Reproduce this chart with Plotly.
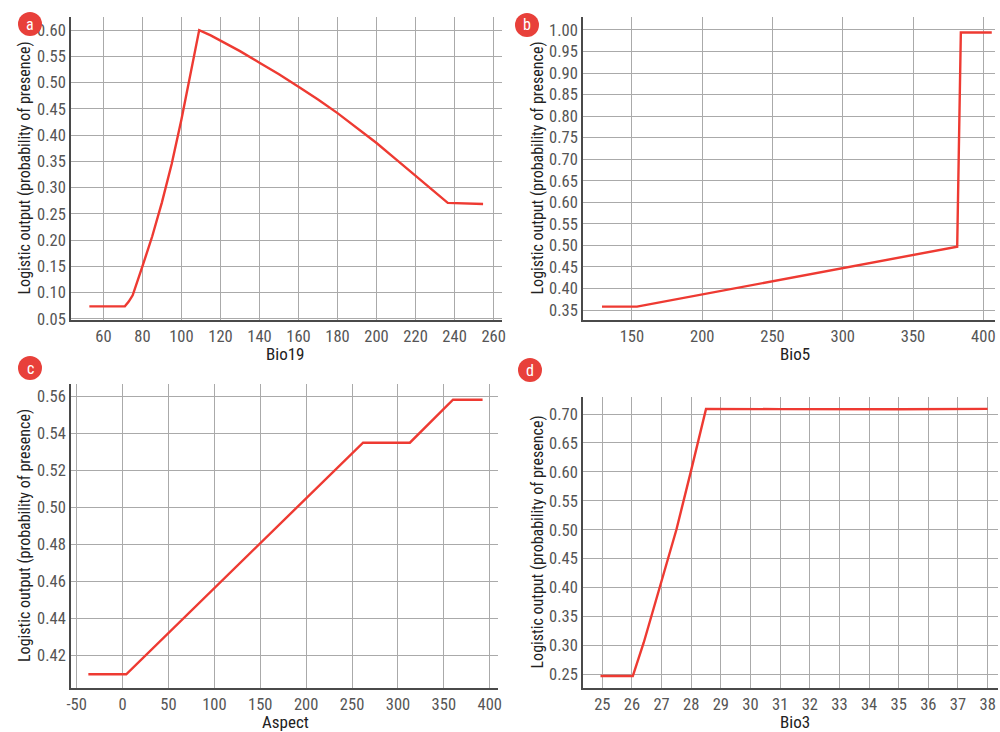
import plotly.graph_objects as go

# ---- data ----
bio19_x = [52.8, 71.0, 73, 75, 80, 85, 90, 95, 100, 105, 109.1, 115, 120, 130, 140, 150, 160, 170, 180, 190, 200, 210, 220, 228, 236.5, 254.6]
bio19_y = [0.074, 0.074, 0.083, 0.095, 0.150, 0.207, 0.272, 0.345, 0.430, 0.520, 0.600, 0.590, 0.580, 0.560, 0.538, 0.516, 0.492, 0.468, 0.442, 0.414, 0.385, 0.354, 0.322, 0.297, 0.271, 0.269]

bio5_x = [128.7, 153.6, 381.4, 384.0, 406.0]
bio5_y = [0.358, 0.358, 0.497, 0.994, 0.994]

aspect_x = [-37.3, 4.0, 262.0, 290.0, 313.0, 360.0, 392.2]
aspect_y = [0.4097, 0.4097, 0.5348, 0.5346, 0.5348, 0.5580, 0.5580]

bio3_x = [24.94, 26.03, 26.4, 27.0, 27.5, 28.0, 28.5, 31.0, 33.0, 35.0, 38.0]
bio3_y = [0.247, 0.247, 0.305, 0.41, 0.50, 0.603, 0.709, 0.7085, 0.708, 0.7083, 0.709]

ticks_a_x = list(range(60, 261, 20))
ticks_a_y = [0.05, 0.10, 0.15, 0.20, 0.25, 0.30, 0.35, 0.40, 0.45, 0.50, 0.55, 0.60]
ticks_b_x = [150, 200, 250, 300, 350, 400]
ticks_b_y = [0.35, 0.40, 0.45, 0.50, 0.55, 0.60, 0.65, 0.70, 0.75, 0.80, 0.85, 0.90, 0.95, 1.00]
ticks_c_x = [-50, 0, 50, 100, 150, 200, 250, 300, 350, 400]
ticks_c_y = [0.42, 0.44, 0.46, 0.48, 0.50, 0.52, 0.54, 0.56]
ticks_d_x = list(range(25, 39))
ticks_d_y = [0.25, 0.30, 0.35, 0.40, 0.45, 0.50, 0.55, 0.60, 0.65, 0.70]

x_titles = ["Bio19", "Bio5", "Aspect", "Bio3"]
panel_letters = ["a", "b", "c", "d"]
y_title = "Logistic output (probability of presence)"

W, H = 1000, 732
FONT = "Liberation Sans Narrow, Roboto Condensed, Arial Narrow, DejaVu Sans Condensed, sans-serif"
RED = "#ee3a32"

fig = go.Figure()

panels = [
    dict(x=bio19_x, y=bio19_y, px=(71, 502), py=(17, 320), xr=[43.4, 264.3], yr=[0.048, 0.625],
         tx=ticks_a_x, ty=ticks_a_y),
    dict(x=bio5_x, y=bio5_y, px=(583, 995), py=(17, 320), xr=[115.2, 408.3], yr=[0.327, 1.030],
         tx=ticks_b_x, ty=ticks_b_y),
    dict(x=aspect_x, y=aspect_y, px=(71, 498), py=(384, 688), xr=[-56.2, 409.0], yr=[0.4023, 0.5665],
         tx=ticks_c_x, ty=ticks_c_y),
    dict(x=bio3_x, y=bio3_y, px=(583, 998), py=(397, 688), xr=[24.35, 38.35], yr=[0.2263, 0.7295],
         tx=ticks_d_x, ty=ticks_d_y),
]

circle_centers = [(30, 24), (527, 25), (30, 368), (530, 370)]
xtitle_pos = [(285, 354), (795, 354), (285, 722), (795, 722)]

annotations = []
shapes = []
for i, p in enumerate(panels):
    n = "" if i == 0 else str(i + 1)
    fig.add_trace(go.Scatter(x=p["x"], y=p["y"], mode="lines",
                             line=dict(color=RED, width=2.4),
                             xaxis="x" + n, yaxis="y" + n, showlegend=False, hoverinfo="skip"))
    xd = [p["px"][0] / W, p["px"][1] / W]
    yd = [1 - p["py"][1] / H, 1 - p["py"][0] / H]
    common = dict(showgrid=True, gridcolor="#aaaaaa", gridwidth=1, zeroline=False,
                  showline=True, linecolor="#4a4a4a", linewidth=1.6, ticks="", automargin=False,
                  tickfont=dict(family=FONT, size=16.5, color="#555555"))
    fig.update_layout(**{
        "xaxis" + n: dict(domain=xd, range=p["xr"], anchor="y" + n, fixedrange=True,
                          tickvals=p["tx"], ticktext=[str(v) for v in p["tx"]], **common),
        "yaxis" + n: dict(domain=yd, range=p["yr"], anchor="x" + n, fixedrange=True,
                          tickvals=p["ty"], ticktext=["{:.2f}".format(v) for v in p["ty"]], **common),
    })
    # x title
    annotations.append(dict(x=xtitle_pos[i][0] / W, y=1 - xtitle_pos[i][1] / H, xref="paper", yref="paper",
                            text=x_titles[i], showarrow=False, xanchor="center", yanchor="middle",
                            font=dict(family=FONT, size=17, color="#222222")))
    # y title
    ycenter = (p["py"][0] + p["py"][1]) / 2
    xt = 24 if i % 2 == 0 else 537
    annotations.append(dict(x=xt / W, y=1 - ycenter / H, xref="paper", yref="paper",
                            text=y_title, showarrow=False, textangle=-90, xanchor="center", yanchor="middle",
                            font=dict(family=FONT, size=16, color="#222222")))
    # letter circle
    cx, cy = circle_centers[i]
    r = 12
    shapes.append(dict(type="circle", xref="paper", yref="paper",
                       x0=(cx - r) / W, x1=(cx + r) / W, y0=1 - (cy + r) / H, y1=1 - (cy - r) / H,
                       fillcolor="#e8403a", line=dict(width=0)))
    annotations.append(dict(x=cx / W, y=1 - cy / H, xref="paper", yref="paper",
                            text=panel_letters[i], showarrow=False, xanchor="center", yanchor="middle",
                            font=dict(family=FONT, size=16, color="white")))

fig.update_layout(width=W, height=H, margin=dict(l=0, r=0, t=0, b=0, autoexpand=False),
                  paper_bgcolor="white", plot_bgcolor="white",
                  annotations=annotations, shapes=shapes)

fig.write_html("out.html", config={"displayModeBar": False},
               post_script="document.body.style.margin='0px';document.body.style.overflow='hidden';")
